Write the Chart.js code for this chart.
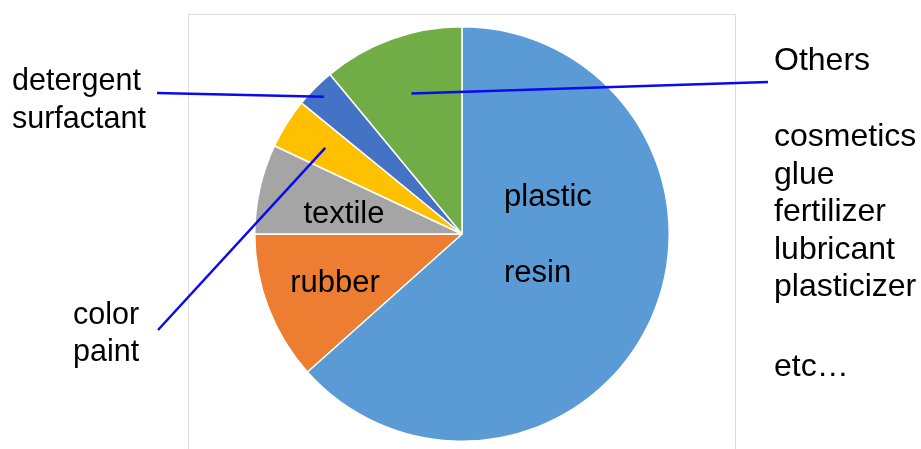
<!DOCTYPE html>
<html>
<head>
<meta charset="utf-8">
<script src="https://cdn.jsdelivr.net/npm/chart.js@4.4.1/dist/chart.umd.min.js"></script>
<style>
  html, body { margin: 0; background: #fff; }
  #wrap { width: 921px; height: 449px; }
</style>
</head>
<body>
<div id="wrap"><canvas id="pie" width="921" height="449"></canvas></div>
<script>
// Shares of use (clockwise from 12 o'clock)
const categories = ['plastic resin', 'rubber', 'textile', 'color paint', 'detergent surfactant', 'Others']
const shares = [63.4, 11.6, 7.0, 3.9, 3.1, 11.0]
const sliceColors = ['#5B9BD5', '#ED7D31', '#A5A5A5', '#FFC000', '#4472C4', '#70AD47']
const othersList = ['cosmetics', 'glue', 'fertilizer', 'lubricant', 'plasticizer']
const othersTail = 'etc…'

const FAMILY = '"Liberation Sans", Arial, sans-serif'
const LEADER = '#0A0AF0'

// text blocks: [lines, x, baselines, align, font px]
const labelBlocks = [
  [['plastic', 'resin'], 504, [206, 282], 'left', 31],
  [['textile'], 344, [223], 'center', 31],
  [['rubber'], 335, [292], 'center', 31],
  [['detergent', 'surfactant'], 12, [90, 128], 'left', 30.5],
  [['color', 'paint'], 73, [324, 361], 'left', 30.5],
  [['Others'], 774, [70], 'left', 32],
  [othersList, 774, [146, 183.5, 221, 258.5, 296], 'left', 32],
  [[othersTail], 774, [376], 'left', 32],
]

// leader lines: slice index, depth into the slice (fraction of radius), outer end
const leaders = [
  { idx: 4, depth: 0.94, to: [157, 93] },
  { idx: 3, depth: 0.78, to: [158, 330] },
  { idx: 5, depth: 0.72, to: [768, 82] },
]

const annotations = {
  id: 'annotations',
  beforeDatasetsDraw(chart) {
    // plot area frame behind the pie
    const { ctx, chartArea: a } = chart
    ctx.save()
    ctx.strokeStyle = '#DCDCDC'
    ctx.lineWidth = 1
    ctx.beginPath()
    ctx.moveTo(a.left - 0.5, chart.height + 2)
    ctx.lineTo(a.left - 0.5, a.top - 11.5)
    ctx.lineTo(a.right + 0.5, a.top - 11.5)
    ctx.lineTo(a.right + 0.5, chart.height + 2)
    ctx.stroke()
    ctx.restore()
  },
  afterDatasetsDraw(chart) {
    const { ctx } = chart
    const arcs = chart.getDatasetMeta(0).data
    ctx.save()
    ctx.fillStyle = '#000'
    ctx.textBaseline = 'alphabetic'
    labelBlocks.forEach(([lines, x, ys, align, size]) => {
      ctx.font = size + 'px ' + FAMILY
      ctx.textAlign = align
      lines.forEach((t, i) => ctx.fillText(t, x, ys[i]))
    })

    ctx.strokeStyle = LEADER
    ctx.lineWidth = 2.5
    leaders.forEach(l => {
      const p = arcs[l.idx].getProps(['x', 'y', 'startAngle', 'endAngle', 'outerRadius'], true)
      const mid = (p.startAngle + p.endAngle) / 2
      const r = p.outerRadius * l.depth
      ctx.beginPath()
      ctx.moveTo(p.x + Math.cos(mid) * r, p.y + Math.sin(mid) * r)
      ctx.lineTo(l.to[0], l.to[1])
      ctx.stroke()
    })
    ctx.restore()
  },
}

new Chart(document.getElementById('pie'), {
  type: 'pie',
  data: {
    labels: categories,
    datasets: [{
      data: shares,
      backgroundColor: sliceColors,
      borderColor: '#FFFFFF',
      borderWidth: 1.5,
    }],
  },
  options: {
    responsive: false,
    animation: false,
    layout: { padding: { left: 189, right: 186, top: 26, bottom: 7 } },
    plugins: { legend: { display: false }, tooltip: { enabled: false } },
  },
  plugins: [annotations],
})
</script>
</body>
</html>
